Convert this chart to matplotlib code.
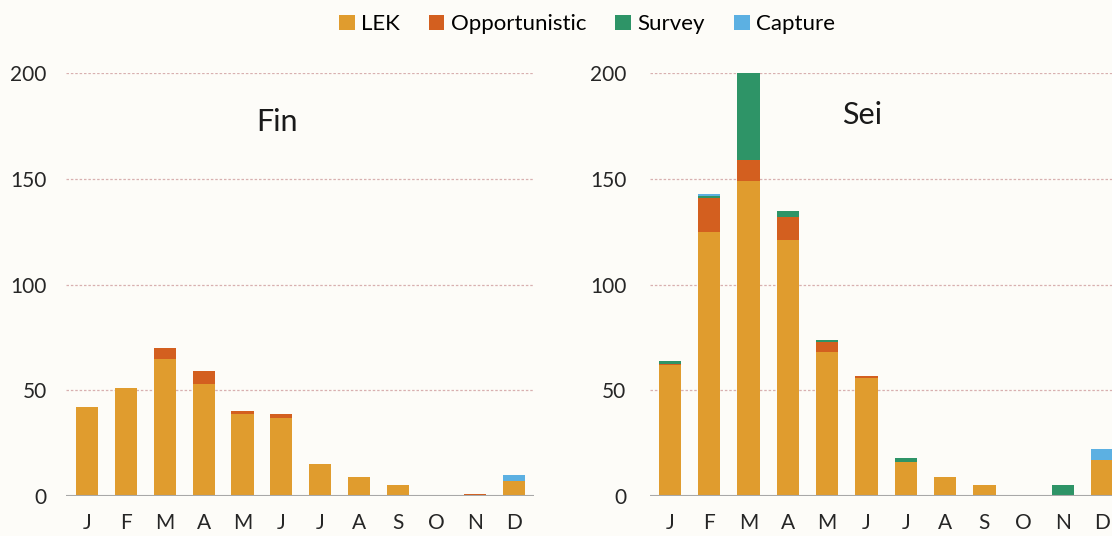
import matplotlib.pyplot as plt
import numpy as np

plt.rcParams['font.family'] = ['Lato', 'DejaVu Sans']

months = ['J', 'F', 'M', 'A', 'M', 'J', 'J', 'A', 'S', 'O', 'N', 'D']
series = ['LEK', 'Opportunistic', 'Survey', 'Capture']
colors = ['#e09c2e', '#d35f1f', '#2e9467', '#5cb0e2']

fin_lek = [42, 51, 65, 53, 39, 37, 15, 9, 5, 0, 0, 7]
fin_opp = [0, 0, 5, 6, 1, 2, 0, 0, 0, 0, 1, 0]
fin_survey = [0, 0, 0, 0, 0, 0, 0, 0, 0, 0, 0, 0]
fin_capture = [0, 0, 0, 0, 0, 0, 0, 0, 0, 0, 0, 3]

sei_lek = [62, 125, 149, 121, 68, 56, 16, 9, 5, 0, 0, 17]
sei_opp = [0.6, 16, 10, 11, 5, 0.6, 0, 0, 0, 0, 0, 0]
sei_survey = [1.4, 1, 41, 3, 1, 0, 2, 0, 0, 0, 5, 0]
sei_capture = [0, 1, 0, 0, 0, 0, 0, 0, 0, 0, 0, 5]

bg = '#fdfcf8'
fig = plt.figure(figsize=(11.12, 5.36), dpi=100, facecolor=bg)
ax1 = fig.add_axes([0.0594, 0.0746, 0.421, 0.789])
ax2 = fig.add_axes([0.5845, 0.0746, 0.4155, 0.789])


def draw(ax, data, title, xlim, title_x, title_y, ypad):
    ax.set_facecolor(bg)
    x = np.arange(len(months))
    bottom = np.zeros(len(months))
    for vals, col, name in zip(data, colors, series):
        ax.bar(x, vals, 0.57, bottom=bottom, color=col, label=name, zorder=3)
        bottom += np.array(vals)
    ax.set_ylim(0, 200)
    ax.set_xlim(*xlim)
    ax.set_yticks([0, 50, 100, 150, 200])
    ax.set_xticks(x)
    ax.set_xticklabels(months)
    for s in ax.spines.values():
        s.set_visible(False)
    ax.axhline(0, color='#a8a8a8', lw=1.5, zorder=4)
    for v in [50, 100, 150, 200]:
        ax.axhline(v, color='#d8b0b0', lw=0.9, ls=(0, (2, 1.5)), zorder=1)
    ax.tick_params(length=0, labelsize=15, colors='#262626')
    ax.tick_params(axis='y', pad=ypad)
    ax.tick_params(axis='x', pad=12)
    ax.text(title_x, title_y, title, transform=ax.transAxes, fontsize=22,
            ha='center', va='center', color='#1a1a1a')


draw(ax1, [fin_lek, fin_opp, fin_survey, fin_capture], 'Fin', (-0.55, 11.52), 0.45, 0.885, 14)
draw(ax2, [sei_lek, sei_opp, sei_survey, sei_capture], 'Sei', (-0.51, 11.25), 0.46, 0.9, 17)

handles, labels = ax1.get_legend_handles_labels()
fig.legend(handles, labels, loc='center', bbox_to_anchor=(0.528, 0.955), ncol=4,
           frameon=False, fontsize=16, handlelength=0.7, handleheight=0.7,
           handletextpad=0.3, columnspacing=1.3)

fig.savefig('out.png', dpi=100, facecolor=bg)
